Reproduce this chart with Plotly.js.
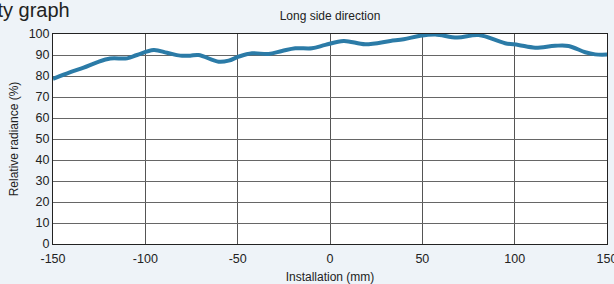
<!DOCTYPE html>
<html>
<head>
<meta charset="utf-8">
<script src="https://cdn.plot.ly/plotly-3.0.1.min.js"></script>
<style>
html,body{margin:0;padding:0;background:#eef3f8;}
#chart{width:614px;height:284px;}
</style>
</head>
<body>
<div id="chart"></div>
<script>
// Installation position (mm)
var positionMm = [-150, -140.6, -133.4, -126.2, -119, -109.9, -104.5, -95.5, -88.3, -81.1, -75.7, -71.2,
  -60.3, -54.9, -49.5, -42.2, -33.3, -26, -18.8, -9.8, -2.5, 7.4, 19.1, 32.7, 39.9, 48.9, 57,
  68.8, 80.5, 94.8, 102, 111.1, 121.9, 129.2, 138.2, 143.6, 150];
// Relative radiance (%)
var radiancePct = [78.6, 81.8, 84, 86.5, 88.3, 88.4, 90, 92.4, 91.1, 89.7, 89.7, 90,
  86.8, 87.3, 89.2, 90.8, 90.5, 91.9, 93.2, 93.2, 94.8, 96.7, 95.1, 96.7, 97.5, 99.2, 99.8,
  98.3, 99.5, 95.6, 94.8, 93.5, 94.4, 94.3, 91.3, 90.3, 90.2];
var xTicks = [-150, -100, -50, 0, 50, 100, 150];
var yTicks = [0, 10, 20, 30, 40, 50, 60, 70, 80, 90, 100];

var font = {family: 'Liberation Sans, Arial, sans-serif', size: 12.5, color: '#222'};

var trace = {
  x: positionMm, y: radiancePct, type: 'scatter', mode: 'lines',
  line: {color: '#2b7ba7', width: 4, shape: 'spline', smoothing: 1},
  hoverinfo: 'skip'
};

var layout = {
  width: 614, height: 284,
  margin: {l: 53, r: 7, t: 34, b: 40},
  paper_bgcolor: '#eef3f8', plot_bgcolor: '#ffffff',
  font: font,
  showlegend: false,
  title: {text: 'Long side direction', font: {family: font.family, size: 12, color: '#222'},
    x: 0.5, xref: 'paper', xanchor: 'center', y: 1, yref: 'container', yanchor: 'top', pad: {t: 12}},
  xaxis: {range: [-150, 150], tickvals: xTicks, ticktext: xTicks.map(String),
    showgrid: true, gridcolor: '#555', gridwidth: 1, zeroline: false,
    showline: true, linecolor: '#222', linewidth: 1, mirror: true,
    ticks: '', tickfont: font, ticklabeloverflow: 'allow', ticklabelstandoff: 3,
    title: {text: 'Installation (mm)', font: {family: font.family, size: 12, color: '#222'}, standoff: 8}},
  yaxis: {range: [0, 100], tickvals: yTicks, ticktext: yTicks.map(String),
    showgrid: true, gridcolor: '#666', gridwidth: 1, zeroline: false,
    showline: true, linecolor: '#222', linewidth: 1, mirror: true,
    ticks: '', tickfont: font,
    title: {text: 'Relative radiance (%)', font: {family: font.family, size: 12, color: '#222'}, standoff: 7}},
  annotations: [{
    text: 'Uniformity graph', xref: 'paper', yref: 'paper',
    x: 0.034, y: 1.114, xanchor: 'right', yanchor: 'middle', showarrow: false,
    font: {family: font.family, size: 20, color: '#222'}
  }]
};

Plotly.newPlot('chart', [trace], layout, {displayModeBar: false, staticPlot: true});
</script>
</body>
</html>
